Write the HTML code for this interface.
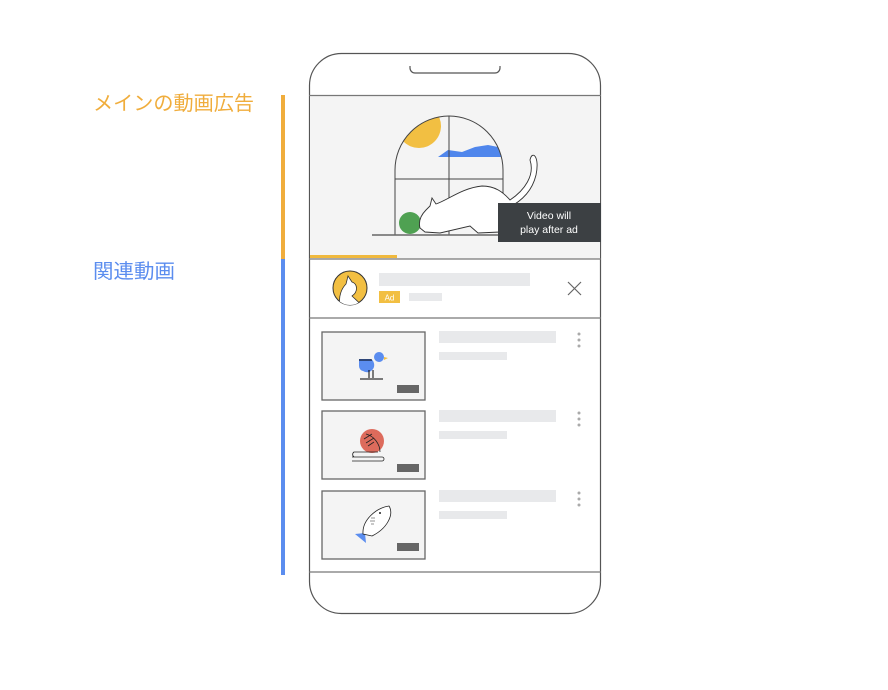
<!DOCTYPE html>
<html><head><meta charset="utf-8"><style>
html,body{margin:0;padding:0;background:#fff;width:888px;height:690px;overflow:hidden}
</style></head><body>
<svg width="888" height="690" viewBox="0 0 888 690" xmlns="http://www.w3.org/2000/svg">
<defs>
<clipPath id="win"><path d="M395 235 V170 A54 54 0 0 1 503 170 V235 Z"/></clipPath>
<clipPath id="av"><circle cx="350" cy="288" r="17"/></clipPath>
</defs>
<text x="93" y="110" font-family="Liberation Sans, Noto Sans CJK JP, sans-serif" font-size="20" fill="#f0ad3c" textLength="161" lengthAdjust="spacingAndGlyphs">メインの動画広告</text>
<text x="93" y="278" font-family="Liberation Sans, Noto Sans CJK JP, sans-serif" font-size="20" fill="#5b8def" textLength="82" lengthAdjust="spacingAndGlyphs">関連動画</text>
<rect x="281" y="95" width="4" height="164" fill="#f0ad3c"/>
<rect x="281" y="259" width="4" height="316" fill="#5b8def"/>

<rect x="309.5" y="53.5" width="291" height="560" rx="32" fill="#fff" stroke="#555" stroke-width="1.2"/>
<path d="M410 66 v2 a5 5 0 0 0 5 5 h80 a5 5 0 0 0 5 -5 v-2" fill="none" stroke="#555" stroke-width="1.2"/>
<rect x="310" y="96" width="290" height="163" fill="#f4f4f4"/>
<line x1="309" y1="95.5" x2="601" y2="95.5" stroke="#777" stroke-width="1.2"/>
<line x1="309" y1="259" x2="601" y2="259" stroke="#777" stroke-width="1.2"/>
<line x1="309" y1="318" x2="601" y2="318" stroke="#777" stroke-width="1.2"/>
<line x1="309" y1="572" x2="601" y2="572" stroke="#777" stroke-width="1.2"/>
<rect x="310" y="255" width="87" height="3" fill="#f0b93d"/>

<g clip-path="url(#win)">
<circle cx="419" cy="126" r="22" fill="#f2bf42"/>
<path d="M438 157 L448 150 L462 152 L475 147 L488 145 L503 148 V157 Z" fill="#4f86ec"/>
</g>
<path d="M395 235 V170 A54 54 0 0 1 503 170 V235" fill="none" stroke="#444" stroke-width="1"/>
<line x1="449" y1="116" x2="449" y2="235" stroke="#444"/>
<line x1="395" y1="179" x2="503" y2="179" stroke="#444"/>
<line x1="372" y1="235" x2="500" y2="235" stroke="#666" stroke-width="1.5"/>
<circle cx="410" cy="223" r="11" fill="#4fa152"/>
<path d="M420 228 C418 220 422 214 426 210 L430 206 L432 198 L436 204 C448 200 462 188 482 186 C495 186 503 192 510 200 C525 190 535 175 530 160 C532 150 540 156 536 175 C532 192 520 202 508 208 L512 224 L500 232 L478 233 L470 226 L440 233 L425 232 Z" fill="#fff" stroke="#333" stroke-width="0.9"/>
<rect x="498" y="203" width="103" height="39" fill="#3c4043"/>
<text x="549" y="219" text-anchor="middle" font-family="Liberation Sans, sans-serif" font-size="10.5" fill="#fff">Video will</text>
<text x="549" y="233" text-anchor="middle" font-family="Liberation Sans, sans-serif" font-size="10.5" fill="#fff">play after ad</text>

<circle cx="350" cy="288" r="17" fill="#f2bf42" stroke="#333" stroke-width="1"/>
<path clip-path="url(#av)" d="M340 306 C338 296 342 288 346 284 L348 276 L352 282 C358 284 358 292 352 296 C356 300 360 303 362 306 Z" fill="#fff" stroke="#333" stroke-width="0.8"/>
<rect x="379" y="273" width="151" height="13" fill="#e8e9eb"/>
<rect x="379" y="291" width="21" height="12" fill="#f2bf42"/>
<text x="389.5" y="300.5" text-anchor="middle" font-family="Liberation Sans, sans-serif" font-size="8" fill="#fff">Ad</text>
<rect x="409" y="293" width="33" height="8" fill="#e8e9eb"/>
<path d="M568 282 L581 295 M581 282 L568 295" stroke="#666" stroke-width="1.2"/>

<g>
<rect x="322" y="332" width="103" height="68" fill="#f4f4f4" stroke="#666" stroke-width="1.3"/>
<rect x="397" y="385" width="22" height="8" fill="#666"/>
<rect x="439" y="331" width="117" height="12" fill="#e8e9eb"/>
<rect x="439" y="352" width="68" height="8" fill="#e8e9eb"/>
<circle cx="579" cy="334" r="1.5" fill="#aaa"/><circle cx="579" cy="340" r="1.5" fill="#aaa"/><circle cx="579" cy="346" r="1.5" fill="#aaa"/>
<path d="M359 359 h12 a6 6 0 0 1 -8 12 a5 5 0 0 1 -4 -5 Z" fill="#5b8def"/>
<circle cx="379" cy="357" r="5" fill="#5b8def"/>
<path d="M384 357 l4 1 -4 2z" fill="#f2bf42"/>
<path d="M359 360 h13" stroke="#000" stroke-width="1"/>
<path d="M369 370 v8 M373 370 v8 M360 379 h23" stroke="#000" stroke-width="1"/>
</g>
<g>
<rect x="322" y="411" width="103" height="68" fill="#f4f4f4" stroke="#666" stroke-width="1.3"/>
<rect x="397" y="464" width="22" height="8" fill="#666"/>
<rect x="439" y="410" width="117" height="12" fill="#e8e9eb"/>
<rect x="439" y="431" width="68" height="8" fill="#e8e9eb"/>
<circle cx="579" cy="413" r="1.5" fill="#aaa"/><circle cx="579" cy="419" r="1.5" fill="#aaa"/><circle cx="579" cy="425" r="1.5" fill="#aaa"/>
<circle cx="372" cy="441" r="12" fill="#dd6b5c"/>
<path d="M366 434 C374 436 380 444 380 452 M364 439 l8 -5 M366 443 l8 -5 M368 446 l6 -4" stroke="#222" stroke-width="0.8" fill="none"/>
<path d="M352 461 h30 a2 2 0 0 0 0 -4 h-30 M354 457 a3 3 0 0 1 0 -5 h24" stroke="#222" stroke-width="0.8" fill="none"/>
</g>
<g>
<rect x="322" y="491" width="103" height="68" fill="#f4f4f4" stroke="#666" stroke-width="1.3"/>
<rect x="397" y="543" width="22" height="8" fill="#666"/>
<rect x="439" y="490" width="117" height="12" fill="#e8e9eb"/>
<rect x="439" y="511" width="68" height="8" fill="#e8e9eb"/>
<circle cx="579" cy="493" r="1.5" fill="#aaa"/><circle cx="579" cy="499" r="1.5" fill="#aaa"/><circle cx="579" cy="505" r="1.5" fill="#aaa"/>
<path d="M355 534 L365 533 L366 543 Z" fill="#5b8def"/>
<path d="M363 534 C362 520 376 508 389 506 C394 514 388 528 372 536 Z" fill="#fff" stroke="#222" stroke-width="0.8"/>
<circle cx="380" cy="513" r="1" fill="#222"/>
<path d="M371 518 h4 M370 521 h5 M371 524 h3" stroke="#222" stroke-width="0.6"/>
</g>
</svg>
</body></html>
